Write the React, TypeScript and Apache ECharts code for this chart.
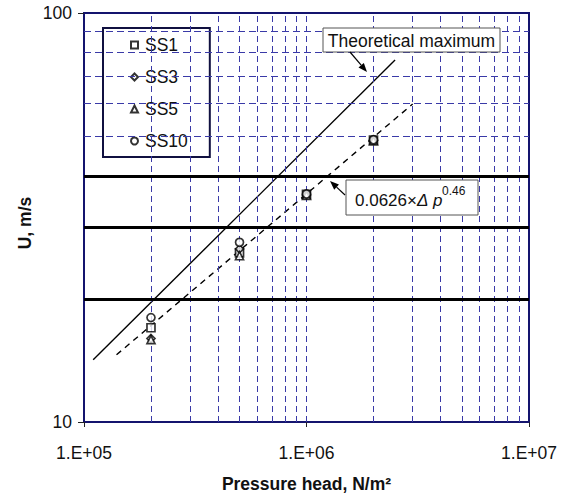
import React, { useEffect, useRef } from 'react';
import * as echarts from 'echarts';

// ---- data ----
const pressure = [2e5, 5e5, 1e6, 2e6];
const ss1 = [17.0, 25.9, 36.0, 48.9];
const ss3 = [16.0, 26.5, 35.9, 48.8];
const ss5 = [15.9, 25.5, 35.8, 48.7];
const ss10 = [18.0, 27.5, 36.1, 49.0];
const theoryX = [1.1e5, 2.5e6];
const theoryU = [14.2, 76.7];
const fitX = [1.4e5, 3.0e6];
const fitU = [14.6, 59.9];
const vGrid = [2e5, 3e5, 4e5, 5e5, 6e5, 7e5, 8e5, 9e5, 1e6, 2e6, 3e6, 4e6, 5e6, 6e6, 7e6, 8e6, 9e6];
const hGridDashed = [50, 60, 70, 80, 90];
const hGridBold = [20, 30, 40];

const FONT = "'Liberation Sans', Arial, Helvetica, sans-serif";
const NAVY = '#14146e';
const GRIDBLUE = '#3a3aa8';

function pairs(xs: number[], ys: number[]) {
  return xs.map((x, i) => [x, ys[i]]);
}

function arrow(fx: number, fy: number, tx: number, ty: number) {
  const dx = tx - fx;
  const dy = ty - fy;
  const len = Math.sqrt(dx * dx + dy * dy);
  const ux = dx / len;
  const uy = dy / len;
  const hl = 9;
  const hw = 3.5;
  const bx = tx - ux * hl;
  const by = ty - uy * hl;
  return [
    {
      type: 'line',
      shape: { x1: fx, y1: fy, x2: bx, y2: by },
      style: { stroke: '#000', lineWidth: 1.2 },
      z: 20,
    },
    {
      type: 'polygon',
      shape: {
        points: [
          [tx, ty],
          [bx - uy * hw, by + ux * hw],
          [bx + uy * hw, by - ux * hw],
        ],
      },
      style: { fill: '#000' },
      z: 20,
    },
  ];
}

const scatterStyle = {
  color: '#fff',
  borderColor: '#000',
  borderWidth: 1.7,
};

function gridSeries(name: string, key: 'xAxis' | 'yAxis', values: number[], lineStyle: any) {
  return {
    name,
    type: 'line',
    data: [],
    z: 1,
    silent: true,
    markLine: {
      silent: true,
      symbol: ['none', 'none'],
      label: { show: false },
      animation: false,
      lineStyle,
      emphasis: { disabled: true },
      data: values.map((v) => ({ [key]: v, lineStyle })),
    },
  };
}

export default function App() {
  const ref = useRef<HTMLDivElement>(null);
  useEffect(() => {
    if (!ref.current) return;
    const chart = echarts.init(ref.current, null, { renderer: 'svg' });
    const option: any = {
      animation: false,
      textStyle: { fontFamily: FONT },
      grid: {
        left: 84,
        right: 34,
        top: 13,
        bottom: 71,
        containLabel: false,
        outerBoundsMode: 'none',
        show: true,
        borderColor: NAVY,
        borderWidth: 2,
        backgroundColor: '#fff',
      },
      legend: {
        data: ['SS1', 'SS3', 'SS5', 'SS10'],
        orient: 'vertical',
        left: 103,
        top: 28,
        padding: [8, 22, 7, 27],
        itemWidth: 7,
        itemHeight: 7,
        itemGap: 14,
        backgroundColor: '#fff',
        borderColor: '#101040',
        borderWidth: 2,
        formatter: (name: string) => `{t|${name}}`,
        textStyle: {
          fontSize: 17.5,
          color: '#111',
          fontFamily: FONT,
          rich: {
            t: { fontSize: 17.5, color: '#111', fontFamily: FONT, padding: [0, 0, 0, 2] },
          },
        },
      },
      xAxis: {
        type: 'log',
        logBase: 10,
        min: 1e5,
        max: 1e7,
        axisLine: { show: true, lineStyle: { color: NAVY, width: 2 } },
        axisTick: { show: true, length: 5, lineStyle: { color: '#222' } },
        axisLabel: {
          fontSize: 17.5,
          color: '#111',
          margin: 22,
          fontFamily: FONT,
          formatter: (v: number) => {
            const e = Math.round(Math.log10(v));
            return '1.E+' + String(e).padStart(2, '0');
          },
        },
        splitLine: { show: false },
      },
      yAxis: {
        type: 'log',
        logBase: 10,
        min: 10,
        max: 100,
        axisLine: { show: true, lineStyle: { color: NAVY, width: 2 } },
        axisTick: { show: true, length: 6, lineStyle: { color: '#222' } },
        axisLabel: { fontSize: 17.5, color: '#111', margin: 12, fontFamily: FONT },
        splitLine: { show: false },
      },
      series: [
        gridSeries('vgrid', 'xAxis', vGrid, { color: GRIDBLUE, width: 1, type: [6, 4], opacity: 1 }),
        gridSeries('hgrid', 'yAxis', hGridDashed, { color: GRIDBLUE, width: 1, type: [7, 4], opacity: 1 }),
        gridSeries('hbold', 'yAxis', hGridBold, { color: '#000', width: 3, type: 'solid', opacity: 1 }),
        {
          name: 'Theoretical maximum',
          type: 'line',
          data: pairs(theoryX, theoryU),
          showSymbol: false,
          symbol: 'none',
          lineStyle: { color: '#000', width: 1.4 },
          z: 3,
        },
        {
          name: 'fit',
          type: 'line',
          data: pairs(fitX, fitU),
          showSymbol: false,
          symbol: 'none',
          lineStyle: { color: '#000', width: 1.4, type: [6, 5] },
          z: 3,
        },
        {
          name: 'SS1',
          type: 'scatter',
          symbol: 'rect',
          symbolSize: 8,
          data: pairs(pressure, ss1),
          itemStyle: scatterStyle,
          z: 5,
        },
        {
          name: 'SS3',
          type: 'scatter',
          symbol: 'diamond',
          symbolSize: 8,
          data: pairs(pressure, ss3),
          itemStyle: scatterStyle,
          z: 5,
        },
        {
          name: 'SS5',
          type: 'scatter',
          symbol: 'triangle',
          symbolSize: 8,
          data: pairs(pressure, ss5),
          itemStyle: scatterStyle,
          z: 5,
        },
        {
          name: 'SS10',
          type: 'scatter',
          symbol: 'circle',
          symbolSize: 8,
          data: pairs(pressure, ss10),
          itemStyle: scatterStyle,
          z: 5,
        },
      ],
      graphic: [
        {
          type: 'text',
          x: 25,
          y: 223,
          rotation: Math.PI / 2,
          style: {
            text: 'U, m/s',
            font: `bold 17.5px ${FONT}`,
            fill: '#111',
            align: 'center',
            verticalAlign: 'middle',
          },
        },
        {
          type: 'text',
          x: 306.5,
          y: 483.5,
          style: {
            text: 'Pressure head, N/m²',
            font: `bold 17.5px ${FONT}`,
            fill: '#111',
            align: 'center',
            verticalAlign: 'middle',
          },
        },
        {
          type: 'rect',
          shape: { x: 323, y: 28, width: 177, height: 24 },
          style: { fill: '#fff', stroke: '#555', lineWidth: 1 },
          z: 10,
        },
        {
          type: 'text',
          x: 411.5,
          y: 40.5,
          style: {
            text: 'Theoretical maximum',
            font: `17.5px ${FONT}`,
            fill: '#111',
            align: 'center',
            verticalAlign: 'middle',
          },
          z: 11,
        },
        ...arrow(350, 52, 367, 72),
        {
          type: 'rect',
          shape: { x: 346, y: 180, width: 132, height: 35 },
          style: { fill: '#fff', stroke: '#555', lineWidth: 1 },
          z: 10,
        },
        {
          type: 'text',
          x: 355,
          y: 200,
          style: {
            text: '0.0626×{i|Δ} {i|p}',
            font: `17px ${FONT}`,
            fontSize: 17,
            fontFamily: FONT,
            fill: '#111',
            align: 'left',
            verticalAlign: 'middle',
            rich: {
              i: { fontStyle: 'italic', fontSize: 17, fontFamily: FONT, fill: '#111' },
            },
          },
          z: 11,
        },
        {
          type: 'text',
          x: 442,
          y: 191,
          style: {
            text: '0.46',
            font: `12px ${FONT}`,
            fill: '#111',
            align: 'left',
            verticalAlign: 'middle',
          },
          z: 11,
        },
        ...arrow(345, 195, 330, 181),
      ],
    };
    chart.setOption(option);
    return () => {
      chart.dispose();
    };
  }, []);
  return (
    <div
      ref={ref}
      style={{ position: 'fixed', left: 0, top: 0, width: 563, height: 493, background: '#fff' }}
    />
  );
}
